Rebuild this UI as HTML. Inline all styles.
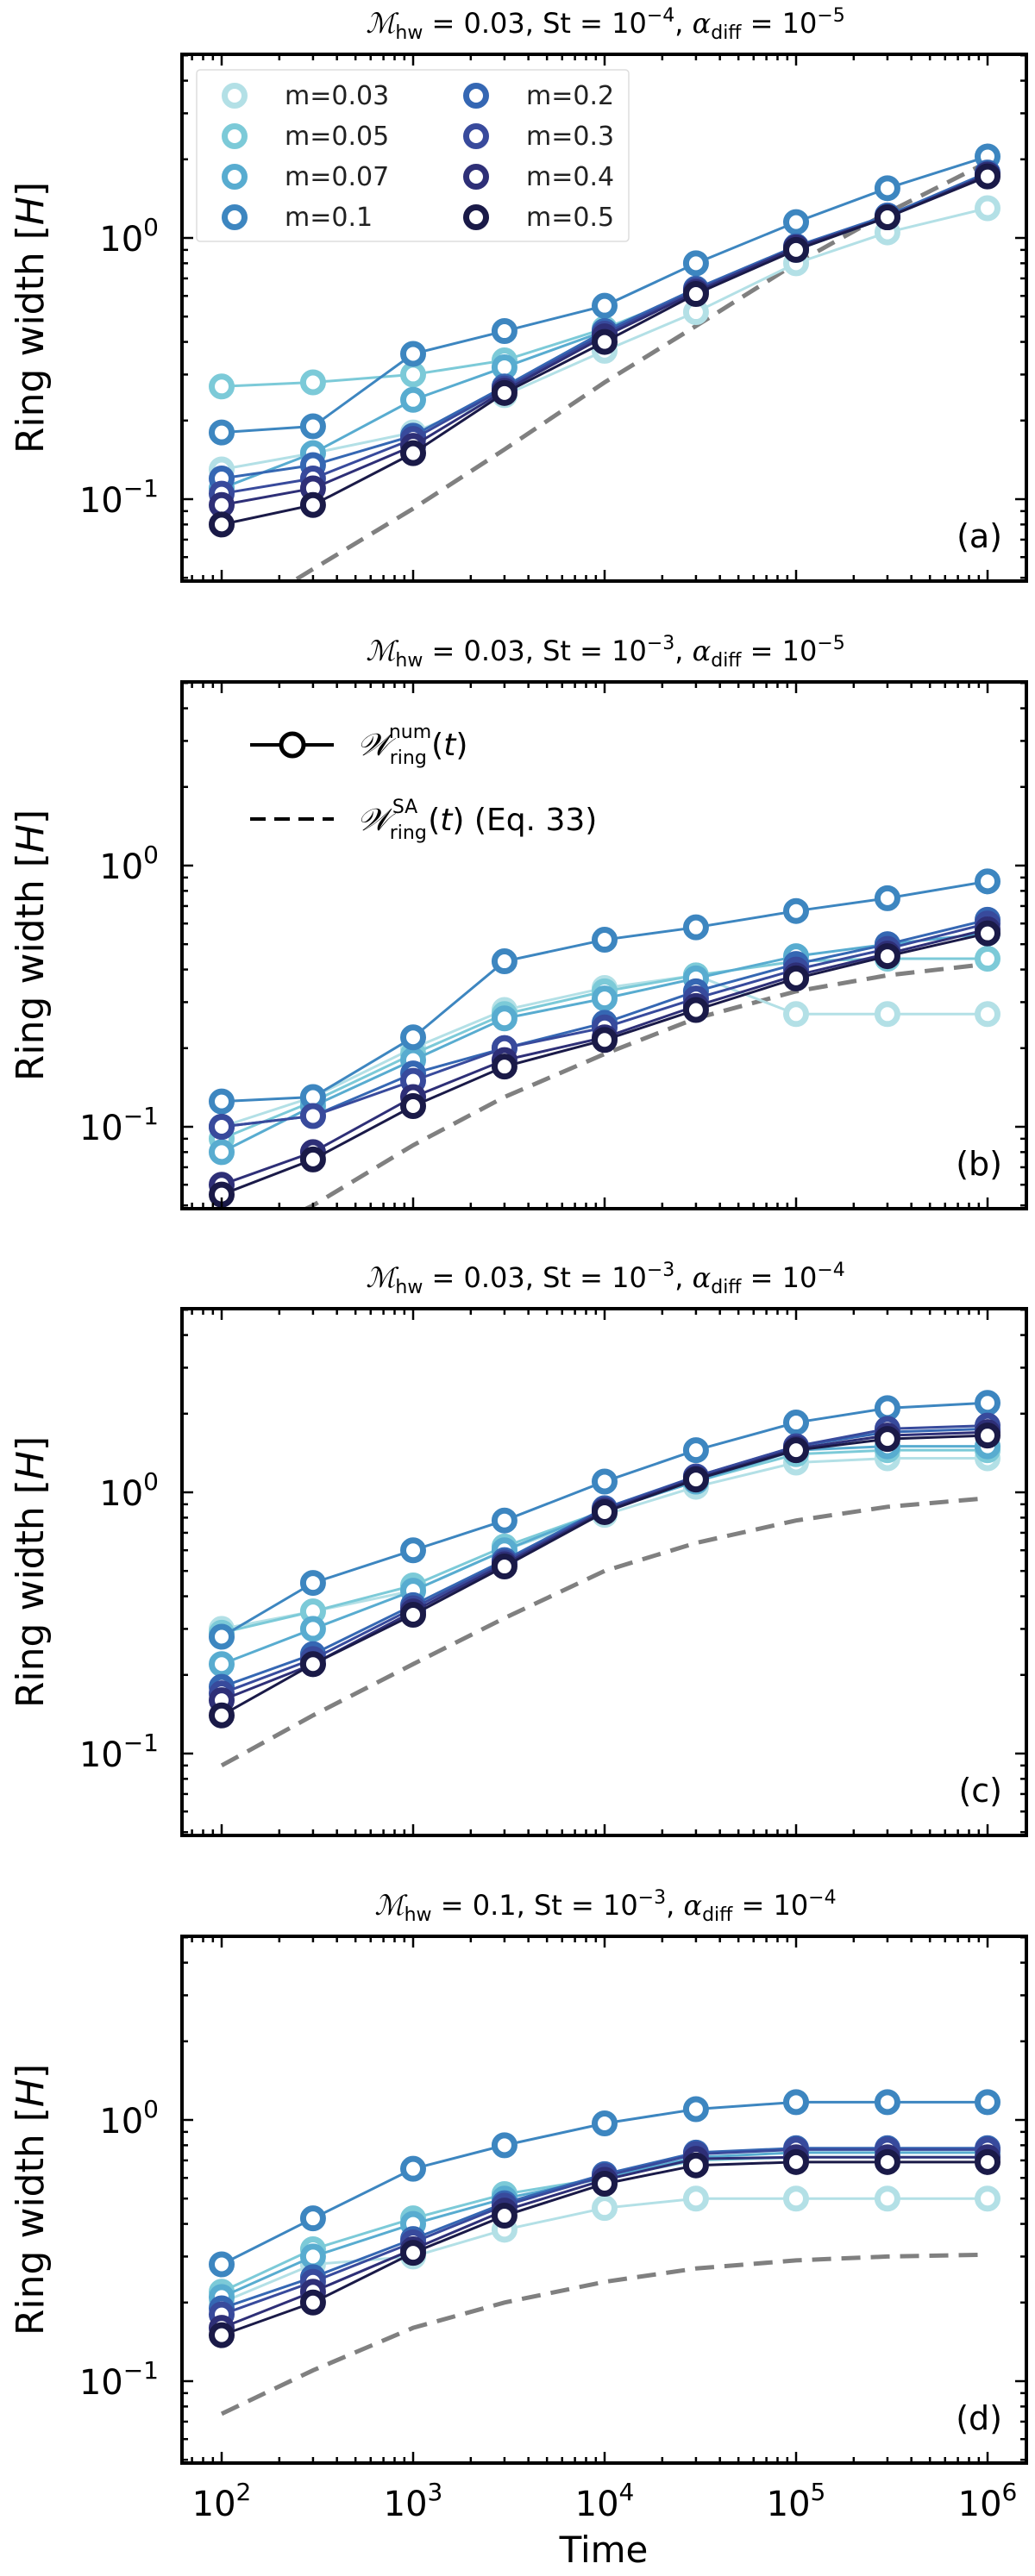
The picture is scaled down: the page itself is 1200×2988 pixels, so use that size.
<!DOCTYPE html>
<html><head><meta charset="utf-8"><style>
html,body{margin:0;padding:0;background:#fff;}
svg{display:block;font-family:"DejaVu Sans","Liberation Sans",sans-serif;}
</style></head><body>
<svg id="fig" width="1200" height="2988" viewBox="0 0 1200 2988" xmlns="http://www.w3.org/2000/svg"></svg>
<script>
const times = [100, 300, 1000, 3000, 1e4, 3e4, 1e5, 3e5, 1e6];
const massLabels = ["m=0.03","m=0.05","m=0.07","m=0.1","m=0.2","m=0.3","m=0.4","m=0.5"];
const colors = ["#b3e0e6","#7ccad8","#58acd0","#3d86c0","#3567b3","#384a9c","#2e2f77","#1a1a48"];
const panelLetters = ["(a)","(b)","(c)","(d)"];
const yTicks = [0.1, 1];
const xTicks = [100, 1000, 1e4, 1e5, 1e6];

const seriesA = [
 [0.13,0.15,0.18,0.25,0.37,0.52,0.80,1.05,1.30],
 [0.27,0.28,0.30,0.34,0.45,0.62,0.90,1.20,1.75],
 [0.11,0.15,0.24,0.32,0.44,0.63,0.92,1.20,1.75],
 [0.18,0.19,0.36,0.44,0.55,0.80,1.15,1.55,2.05],
 [0.12,0.135,0.175,0.27,0.44,0.64,0.93,1.22,1.78],
 [0.105,0.12,0.17,0.265,0.43,0.63,0.92,1.20,1.75],
 [0.095,0.11,0.16,0.26,0.42,0.62,0.92,1.20,1.75],
 [0.08,0.095,0.15,0.255,0.40,0.61,0.90,1.20,1.72]];
const dashA = [0.033,0.054,0.092,0.155,0.28,0.46,0.80,1.25,1.95];

const seriesB = [
 [0.10,0.13,0.20,0.28,0.34,0.38,0.27,0.27,0.27],
 [0.09,0.125,0.19,0.27,0.33,0.38,0.43,0.44,0.44],
 [0.08,0.12,0.18,0.26,0.31,0.37,0.45,0.50,0.55],
 [0.125,0.13,0.22,0.43,0.52,0.58,0.67,0.75,0.87],
 [0.10,0.11,0.16,0.20,0.25,0.33,0.42,0.50,0.62],
 [0.10,0.11,0.15,0.20,0.24,0.31,0.40,0.48,0.60],
 [0.06,0.08,0.13,0.18,0.22,0.29,0.38,0.46,0.57],
 [0.055,0.075,0.12,0.17,0.215,0.28,0.37,0.45,0.55]];
const dashB = [0.034,0.05,0.085,0.13,0.19,0.26,0.33,0.38,0.42];

const seriesC = [
 [0.30,0.35,0.42,0.60,0.82,1.05,1.30,1.35,1.35],
 [0.29,0.35,0.44,0.62,0.85,1.10,1.40,1.45,1.45],
 [0.22,0.30,0.42,0.60,0.85,1.10,1.45,1.50,1.50],
 [0.28,0.45,0.60,0.78,1.10,1.45,1.85,2.10,2.20],
 [0.18,0.24,0.37,0.55,0.87,1.15,1.50,1.70,1.75],
 [0.17,0.23,0.36,0.54,0.86,1.15,1.50,1.75,1.80],
 [0.16,0.22,0.35,0.53,0.85,1.13,1.47,1.65,1.70],
 [0.14,0.22,0.34,0.52,0.84,1.12,1.45,1.60,1.65]];
const dashC = [0.09,0.14,0.22,0.33,0.50,0.64,0.78,0.88,0.95];

const seriesD = [
 [0.20,0.28,0.30,0.38,0.46,0.50,0.50,0.50,0.50],
 [0.22,0.32,0.42,0.52,0.60,0.70,0.72,0.72,0.72],
 [0.21,0.30,0.40,0.50,0.60,0.72,0.75,0.75,0.75],
 [0.28,0.42,0.65,0.80,0.97,1.10,1.17,1.17,1.17],
 [0.19,0.25,0.35,0.48,0.62,0.75,0.78,0.78,0.78],
 [0.18,0.24,0.34,0.47,0.61,0.74,0.77,0.77,0.77],
 [0.16,0.22,0.32,0.45,0.59,0.71,0.72,0.72,0.72],
 [0.15,0.20,0.31,0.43,0.57,0.67,0.69,0.69,0.69]];
const dashD = [0.075,0.11,0.16,0.20,0.24,0.27,0.29,0.30,0.305];

const titles = [
 ["0.03","−4","−5"],["0.03","−3","−5"],["0.03","−3","−4"],["0.1","−3","−4"]];
const allSeries = [seriesA, seriesB, seriesC, seriesD];
const allDash = [dashA, dashB, dashC, dashD];

const NS = "http://www.w3.org/2000/svg";
const svg = document.getElementById("fig");
function mk(tag, attrs, parent){
  const e = document.createElementNS(NS, tag);
  for (const k in attrs) e.setAttribute(k, attrs[k]);
  (parent||svg).appendChild(e); return e;
}
const X0 = 211, X1 = 1190, H = 611;
const panelTops = [63, 791, 1518, 2246];
function xs(t){ return 257 + 222*(Math.log10(t) - 2); }
function ysFor(top){ return v => top + 213 - 303*Math.log10(v); }

panelTops.forEach((top, p) => {
  const g = mk("g", {});
  
  
  const ys = ysFor(top);
  const clipId = "clip" + p;
  const cp = mk("clipPath", {id: clipId}, g);
  mk("rect", {x: X0, y: top, width: X1 - X0, height: H}, cp);

  const tt = mk("text", {x: 702, y: top - 25, "text-anchor": "middle", "font-size": 32, fill: "#000"}, g);
  
  
  const tv = titles[p];
  tt.innerHTML = '<tspan font-family="DejaVu Serif" font-style="italic">ℳ</tspan><tspan font-size="22" dy="7">hw</tspan><tspan dy="-7"> = ' + tv[0] + ',  St = 10</tspan><tspan font-size="22" dy="-13">' + tv[1] + '</tspan><tspan dy="13">,  </tspan><tspan font-style="italic" font-family="DejaVu Serif">α</tspan><tspan font-size="22" dy="7">diff</tspan><tspan dy="-7"> = 10</tspan><tspan font-size="22" dy="-13">' + tv[2] + '</tspan>';

  const dl = mk("polyline", {points: times.map((t,i)=> xs(t)+","+ys(allDash[p][i])).join(" "), fill: "none", stroke: "#808080", "stroke-width": 5, "stroke-dasharray": "22,12", "clip-path": "url(#" + clipId + ")"}, g);
  
  

  allSeries[p].forEach((vals, s) => {
    const sg = mk("g", {"clip-path": "url(#" + clipId + ")"}, g);
    
    
    mk("polyline", {points: times.map((t,i)=> xs(t)+","+ys(vals[i])).join(" "), fill: "none", stroke: colors[s], "stroke-width": 3}, sg);
    vals.forEach((v,i) => {
      const c = mk("circle", {cx: xs(times[i]), cy: ys(v), r: 11.5, fill: "#fff", stroke: colors[s], "stroke-width": 7}, sg);
      
      
    });
  });

  const tk = mk("g", {stroke: "#000", "stroke-width": 2.5}, g);
  
  
  for (let d = 1; d <= 6; d++) for (let k = 1; k <= 9; k++) {
    const t = k * Math.pow(10, d); const x = xs(t);
    if (x < X0 || x > X1) continue;
    const L = k === 1 ? 13 : 7;
    mk("line", {x1: x, y1: top + H, x2: x, y2: top + H - L}, tk);
    mk("line", {x1: x, y1: top, x2: x, y2: top + L}, tk);
  }
  for (let d = -2; d <= 0; d++) for (let k = 1; k <= 9; k++) {
    const v = k * Math.pow(10, d); const y = ys(v);
    if (y < top || y > top + H) continue;
    const L = k === 1 ? 13 : 7;
    mk("line", {x1: X0, y1: y, x2: X0 + L, y2: y}, tk);
    mk("line", {x1: X1, y1: y, x2: X1 - L, y2: y}, tk);
  }
  yTicks.forEach(v => {
    const e = Math.round(Math.log10(v));
    const lab = mk("text", {x: 184, y: ys(v) + 15, "text-anchor": "end", "font-size": 40}, g);
    
    
    lab.innerHTML = '10<tspan font-size="28" dy="-18">' + (e < 0 ? "−" + (-e) : e) + '</tspan>';
  });
  const fr = mk("rect", {x: X0, y: top, width: X1 - X0, height: H, fill: "none", stroke: "#000", "stroke-width": 4}, g);
  
  
  const yl = mk("text", {x: 0, y: 0, transform: "translate(50," + (top + H/2) + ") rotate(-90)", "text-anchor": "middle", "font-size": 44}, g);
  
  
  yl.innerHTML = 'Ring width [<tspan font-style="italic">H</tspan>]';
  const pl = mk("text", {x: 1162, y: top + 572, "text-anchor": "end", "font-size": 38}, g);
  
  
  pl.textContent = panelLetters[p];
});

const lg = mk("g", {});


mk("rect", {x: 228, y: 81, width: 501, height: 199, rx: 4, fill: "#fff", "fill-opacity": 0.85, stroke: "#ddd", "stroke-width": 1.5}, lg);
massLabels.forEach((lab, i) => {
  const col = Math.floor(i / 4), row = i % 4;
  const y = 111 + row * 47;
  const ent = mk("g", {}, lg);
  
  
  mk("circle", {cx: 272 + col * 280, cy: y, r: 11.5, fill: "#fff", stroke: colors[i], "stroke-width": 7}, ent);
  const t = mk("text", {x: 330 + col * 280, y: y + 10, "font-size": 30, fill: "#222"}, ent);
  t.textContent = lab;
});

const lb = mk("g", {});


const tb = 791;
mk("line", {x1: 290, y1: tb + 73, x2: 387, y2: tb + 73, stroke: "#000", "stroke-width": 4}, lb);
mk("circle", {cx: 339, cy: tb + 73, r: 13, fill: "#fff", stroke: "#000", "stroke-width": 5}, lb);
mk("line", {x1: 290, y1: tb + 159, x2: 387, y2: tb + 159, stroke: "#000", "stroke-width": 4, "stroke-dasharray": "18,10"}, lb);
const l1 = mk("text", {x: 414, y: tb + 85, "font-size": 36}, lb);
l1.innerHTML = '<tspan font-family="DejaVu Serif" font-style="italic">𝒲</tspan><tspan font-size="22" dy="10">ring</tspan><tspan font-size="22" dx="-44" dy="-30">num</tspan><tspan dy="20">(<tspan font-style="italic">t</tspan>)</tspan>';
const l2 = mk("text", {x: 414, y: tb + 172, "font-size": 36}, lb);
l2.innerHTML = '<tspan font-family="DejaVu Serif" font-style="italic">𝒲</tspan><tspan font-size="22" dy="10">ring</tspan><tspan font-size="22" dx="-40" dy="-30">SA</tspan><tspan dx="12" dy="20">(<tspan font-style="italic">t</tspan>) (Eq. 33)</tspan>';

xTicks.forEach(t => {
  const e = Math.round(Math.log10(t));
  const lab = mk("text", {x: xs(t), y: 2918, "text-anchor": "middle", "font-size": 40});
  
  
  lab.innerHTML = '10<tspan font-size="28" dy="-18">' + e + '</tspan>';
});
const xt = mk("text", {x: 700, y: 2972, "text-anchor": "middle", "font-size": 42});


xt.textContent = "Time";
</script>
</body></html>
